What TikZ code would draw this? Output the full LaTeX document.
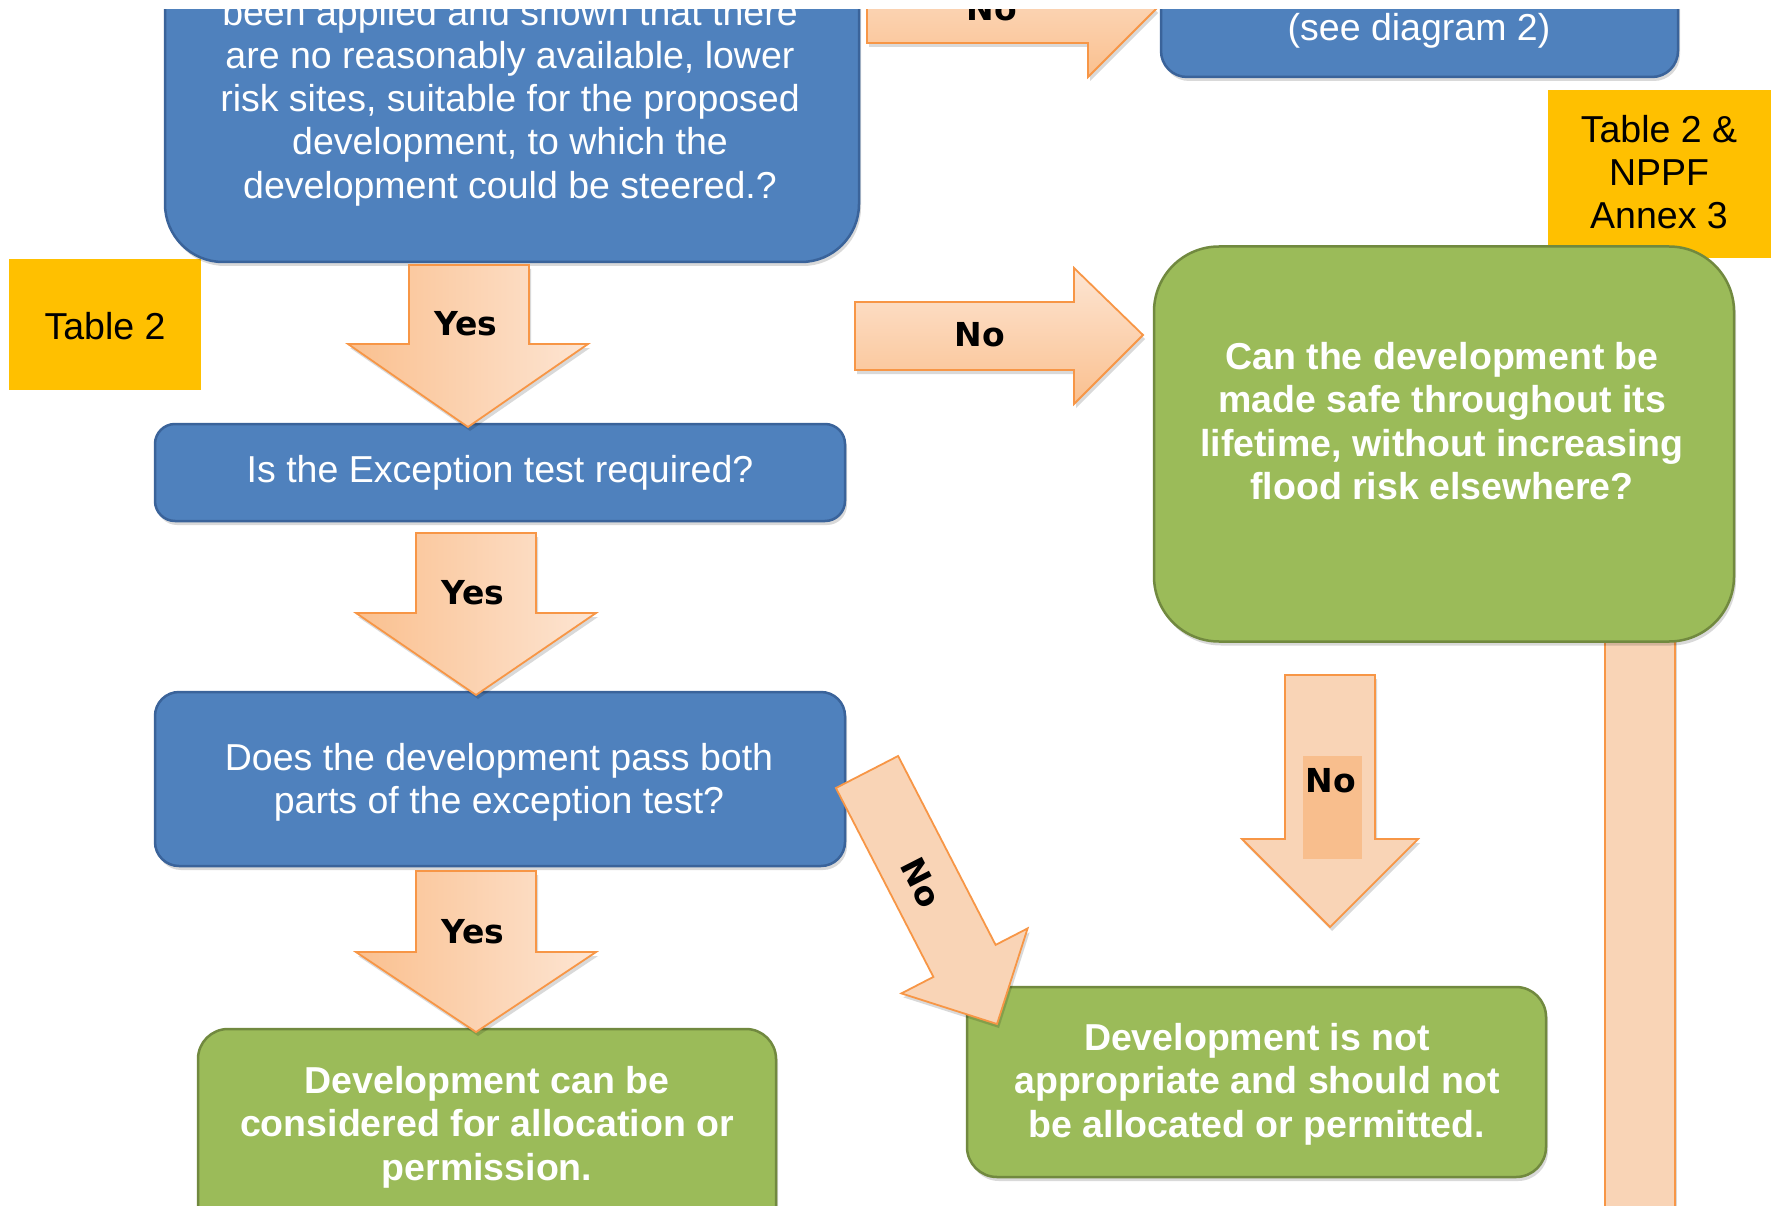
\documentclass[tikz,border=0pt]{standalone}
\usepackage{fontspec}
\setmainfont{Liberation Sans}
\newfontfamily\lblfont{DejaVu Sans}
\usetikzlibrary{shadows}
\definecolor{boxblue}{HTML}{4F81BD}
\definecolor{blueedge}{HTML}{3A639A}
\definecolor{boxgreen}{HTML}{9BBB59}
\definecolor{greenedge}{HTML}{71893F}
\definecolor{tabyellow}{HTML}{FFC000}
\definecolor{arrowedge}{HTML}{F79646}
\definecolor{arrowdark}{HTML}{FAC08F}
\definecolor{arrowlight}{HTML}{FDE5D3}
\definecolor{arrowflat}{HTML}{F9D4B6}
\definecolor{labelpatch}{HTML}{F8BE8D}
\begin{document}
\begin{tikzpicture}[x=1pt,y=-1pt,
  bluebox/.style={draw=blueedge, line width=2.5pt, fill=boxblue, inner sep=0pt},
  greenbox/.style={draw=greenedge, line width=2.5pt, fill=boxgreen, inner sep=0pt},
  tabbox/.style={fill=tabyellow, inner sep=0pt},
  boxtext/.style={text=white, align=center, inner sep=0pt, font=\fontsize{37.5}{43.3}\selectfont},
  greentext/.style={text=white, align=center, inner sep=0pt, font=\fontsize{37.5}{43.3}\selectfont\bfseries},
  tabtext/.style={text=black, align=center, inner sep=0pt, font=\fontsize{37.5}{43.3}\selectfont},
  lbl/.style={text=black, inner sep=0pt, font=\lblfont\fontsize{33}{36}\selectfont\bfseries},
  softshadow/.style={drop shadow={shadow xshift=2pt, shadow yshift=-4pt, opacity=0.15, fill=black}},
  vblock/.style={draw=arrowedge, line width=1.8pt, line join=miter, left color=arrowdark, right color=arrowlight, softshadow},
  hblock/.style={draw=arrowedge, line width=1.8pt, line join=miter, top color=arrowlight, bottom color=arrowdark, softshadow},
  flatblock/.style={draw=arrowedge, line width=1.8pt, line join=miter, fill=arrowflat, softshadow}
]
\useasboundingbox (0,0) rectangle (1771,1206);
\fill[white] (0,0) rectangle (1771,1206);
\clip (0,10) rectangle (1771,1206);

% long bar on the right (behind the green box)
\draw[flatblock] (1605,600) rectangle (1675,1240);

% yellow reference tabs
\node[tabbox, minimum width=192pt, minimum height=131pt] (t2) at (105,324.5) {};
\node[tabtext] (t2t) at (105,326) {Table 2};
\node[tabbox, minimum width=240pt, minimum height=168pt] (t3) at (1668,174) {};
\node[tabtext] (t3t) at (1659,172) {Table 2 \&\\ NPPF\\ Annex 3};

% boxes
\node[bluebox, rounded corners=58pt, minimum width=694pt, minimum height=362pt, softshadow] (q1) at (512,81) {};
\node[boxtext] (q1t) at (510,102) {been applied and shown that there\\ are no reasonably available, lower\\ risk sites, suitable for the proposed\\ development, to which the\\ development could be steered.?};

\node[bluebox, rounded corners=26pt, minimum width=517pt, minimum height=137pt, softshadow] (d2) at (1419.5,8.5) {};
\node[boxtext] (d2t) at (1419,31) {(see diagram 2)};

\node[greenbox, rounded corners=65pt, minimum width=580pt, minimum height=395pt, softshadow] (g1) at (1444,444) {};
\node[greentext] (g1t) at (1442,421) {Can the development be\\ made safe throughout its\\ lifetime, without increasing\\ flood risk elsewhere?};

\node[bluebox, rounded corners=20pt, minimum width=690pt, minimum height=97pt, softshadow] (q2) at (500,472.5) {};
\node[boxtext] (q2t) at (500,473) {Is the Exception test required?};

\node[bluebox, rounded corners=24pt, minimum width=690pt, minimum height=174pt, softshadow] (q3) at (500,779) {};
\node[boxtext] (q3t) at (499,782) {Does the development pass both\\ parts of the exception test?};

\node[greenbox, rounded corners=30pt, minimum width=578pt, minimum height=231pt, softshadow] (g2) at (487,1144.5) {};
\node[greentext] (g2t) at (487,1127) {Development can be\\ considered for allocation or\\ permission.};

\node[greenbox, rounded corners=30pt, minimum width=579pt, minimum height=190pt, softshadow] (g3) at (1256.5,1082) {};
\node[greentext] (g3t) at (1257,1084) {Development is not\\ appropriate and should not\\ be allocated or permitted.};

% top "No" arrow
\draw[hblock] (867,-26) -- (1088,-26) -- (1088,-59) -- (1156,9) -- (1088,77) -- (1088,43) -- (867,43) -- cycle;
\node[lbl] (n0) at (992,9) {No};

% middle "No" arrow
\draw[hblock] (855,302) -- (1074,302) -- (1074,268) -- (1143,335) -- (1074,404) -- (1074,370) -- (855,370) -- cycle;
\node[lbl] (n1) at (980,335) {No};

% Yes arrows
\draw[vblock] (409,265) -- (529,265) -- (529,344) -- (588,344) -- (468,427) -- (348,344) -- (409,344) -- cycle;
\node[lbl] (y1) at (466,324) {Yes};
\draw[vblock] (416,533) -- (536,533) -- (536,613) -- (596,613) -- (476,695) -- (356,613) -- (416,613) -- cycle;
\node[lbl] (y2) at (473,593) {Yes};
\draw[vblock] (416,871) -- (536,871) -- (536,952) -- (596,952) -- (476,1032) -- (356,952) -- (416,952) -- cycle;
\node[lbl] (y3) at (473,932) {Yes};

% right vertical "No" arrow
\draw[flatblock] (1285,675) -- (1375,675) -- (1375,839) -- (1418,839) -- (1330,927) -- (1242,839) -- (1285,839) -- cycle;
\fill[labelpatch] (1303,756) rectangle (1362,859);
\node[lbl] (n2) at (1331,781) {No};

% diagonal "No" arrow
\draw[flatblock] (835.9,788.0) -- (933.4,976.9) -- (901.4,993.4) -- (997,1024) -- (1027.6,928.4) -- (995.6,944.9) -- (898.1,756.0) -- cycle;
\node[lbl, rotate=-63] (n3) at (921,883) {No};
\end{tikzpicture}
\end{document}
